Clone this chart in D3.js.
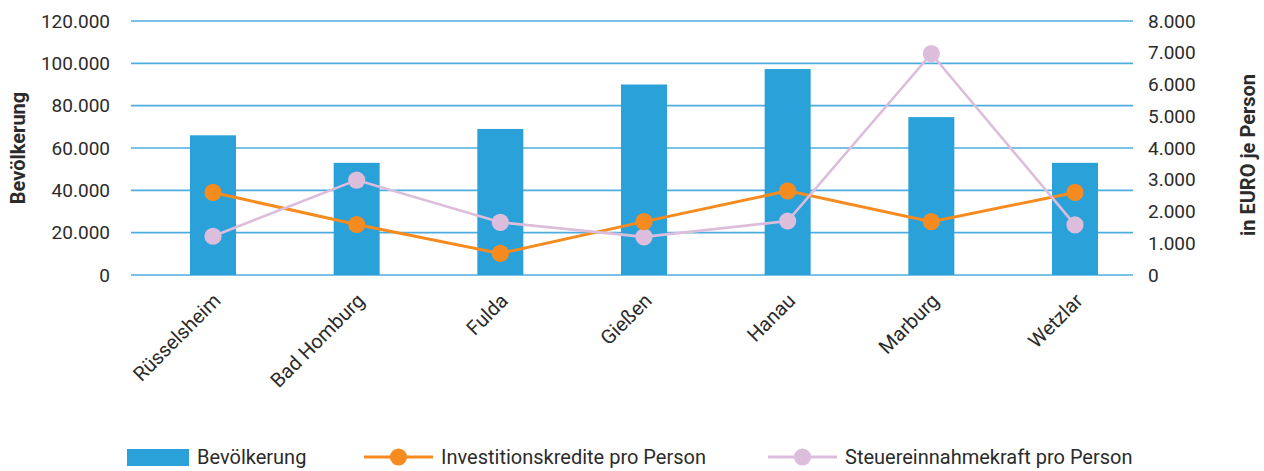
<!DOCTYPE html>
<html lang="de">
<head>
<meta charset="utf-8">
<script src="https://cdn.jsdelivr.net/npm/d3@7"></script>
<style>
  html, body { margin: 0; padding: 0; background: #fff; }
  svg { display: block; font-family: Roboto, "Noto Sans", sans-serif; }
</style>
</head>
<body>
<svg id="chart" width="1264" height="471"></svg>
<script>
// Städte und Werte
const cities = ["Rüsselsheim", "Bad Homburg", "Fulda", "Gießen", "Hanau", "Marburg", "Wetzlar"];
const population = [66000, 53000, 69000, 90000, 97300, 74600, 53000];
const investCredit = [2600, 1590, 680, 1680, 2650, 1680, 2600];
const taxPower = [1220, 2990, 1660, 1200, 1700, 6970, 1580];

const leftTicks = [0, 20000, 40000, 60000, 80000, 100000, 120000];
const rightTicks = [0, 1000, 2000, 3000, 4000, 5000, 6000, 7000, 8000];

const seriesNames = ["Bevölkerung", "Investitionskredite pro Person", "Steuereinnahmekraft pro Person"];

const colors = { bar: "#2ba1da", orange: "#f68b1f", lilac: "#dcbddb", grid: "#4eaddf", text: "#2b2b2b" };

const de = d3.formatLocale({ decimal: ",", thousands: ".", grouping: [3], currency: ["", " €"] });
const fmt = de.format(",d");

const svg = d3.select("#chart");

const plot = { left: 131, right: 1133, top: 21, bottom: 275 };

const x = d3.scalePoint().domain(cities).range([213, 1075]);
const yLeft = d3.scaleLinear().domain([0, 120000]).range([plot.bottom, plot.top]);
const yRight = d3.scaleLinear().domain([0, 8000]).range([plot.bottom, plot.top]);
const barWidth = 46;

// Gitterlinien
svg.append("g")
  .selectAll("line")
  .data(leftTicks)
  .join("line")
  .attr("x1", plot.left).attr("x2", plot.right)
  .attr("y1", d => yLeft(d)).attr("y2", d => yLeft(d))
  .attr("stroke", colors.grid)
  .attr("stroke-width", 1.6);

// Linke Achse
const leftAxis = d3.axisLeft(yLeft).tickValues(leftTicks).tickFormat(fmt).tickSize(0).tickPadding(0);
svg.append("g")
  .attr("transform", "translate(110,0)")
  .call(leftAxis)
  .call(g => g.select(".domain").remove())
  .call(g => g.selectAll("text")
    .attr("font-size", 19)
    .attr("font-family", "Roboto, sans-serif")
    .attr("fill", colors.text));

// Rechte Achse
const rightAxis = d3.axisRight(yRight).tickValues(rightTicks).tickFormat(fmt).tickSize(0).tickPadding(0);
svg.append("g")
  .attr("transform", "translate(1148,0)")
  .call(rightAxis)
  .call(g => g.select(".domain").remove())
  .call(g => g.selectAll("text")
    .attr("font-size", 19)
    .attr("font-family", "Roboto, sans-serif")
    .attr("fill", colors.text));

// Achsentitel
svg.append("text")
  .attr("transform", `translate(25,${(plot.top + plot.bottom) / 2}) rotate(-90)`)
  .attr("text-anchor", "middle")
  .attr("font-size", 20)
  .attr("font-weight", "bold")
  .attr("fill", colors.text)
  .text("Bevölkerung");

svg.append("text")
  .attr("transform", `translate(1255,${(plot.top + plot.bottom) / 2 + 7}) rotate(-90)`)
  .attr("text-anchor", "middle")
  .attr("font-size", 20)
  .attr("font-weight", "bold")
  .attr("fill", colors.text)
  .text("in EURO je Person");

// Balken
svg.append("g")
  .selectAll("rect")
  .data(cities.map((c, i) => ({ c, v: population[i] })))
  .join("rect")
  .attr("x", d => x(d.c) - barWidth / 2)
  .attr("width", barWidth)
  .attr("y", d => yLeft(d.v))
  .attr("height", d => yLeft(0) - yLeft(d.v))
  .attr("fill", colors.bar);

// Linien
const line = d3.line().x(d => x(d.c)).y(d => yRight(d.v));
const orangeData = cities.map((c, i) => ({ c, v: investCredit[i] }));
const lilacData = cities.map((c, i) => ({ c, v: taxPower[i] }));

svg.append("path").datum(orangeData)
  .attr("d", line).attr("fill", "none")
  .attr("stroke", colors.orange).attr("stroke-width", 3);

svg.append("path").datum(lilacData)
  .attr("d", line).attr("fill", "none")
  .attr("stroke", colors.lilac).attr("stroke-width", 2.6);

svg.append("g").selectAll("circle").data(lilacData).join("circle")
  .attr("cx", d => x(d.c)).attr("cy", d => yRight(d.v)).attr("r", 8.6)
  .attr("fill", colors.lilac);

svg.append("g").selectAll("circle").data(orangeData).join("circle")
  .attr("cx", d => x(d.c)).attr("cy", d => yRight(d.v)).attr("r", 8.6)
  .attr("fill", colors.orange);

// Kategorienbeschriftung
svg.append("g")
  .selectAll("text")
  .data(cities)
  .join("text")
  .attr("transform", d => `translate(${x(d) + 4},${297}) rotate(-45)`)
  .attr("text-anchor", "end")
  .attr("dy", "0.35em")
  .attr("font-size", 20)
  .attr("fill", colors.text)
  .text(d => d);

// Legende
const legend = svg.append("g").attr("font-size", 20).attr("fill", colors.text);
legend.append("rect").attr("x", 127).attr("y", 449).attr("width", 62).attr("height", 17).attr("fill", colors.bar);
legend.append("text").attr("x", 197).attr("y", 457).attr("dy", "0.35em").text(seriesNames[0]);

const lineItems = [
  { x0: 364, color: colors.orange, name: seriesNames[1] },
  { x0: 768, color: colors.lilac, name: seriesNames[2] }
];
lineItems.forEach(it => {
  legend.append("line").attr("x1", it.x0).attr("x2", it.x0 + 69)
    .attr("y1", 457).attr("y2", 457)
    .attr("stroke", it.color).attr("stroke-width", 3);
  legend.append("circle").attr("cx", it.x0 + 34.5).attr("cy", 457).attr("r", 8.6).attr("fill", it.color);
  legend.append("text").attr("x", it.x0 + 77).attr("y", 457).attr("dy", "0.35em").text(it.name);
});
</script>
</body>
</html>
